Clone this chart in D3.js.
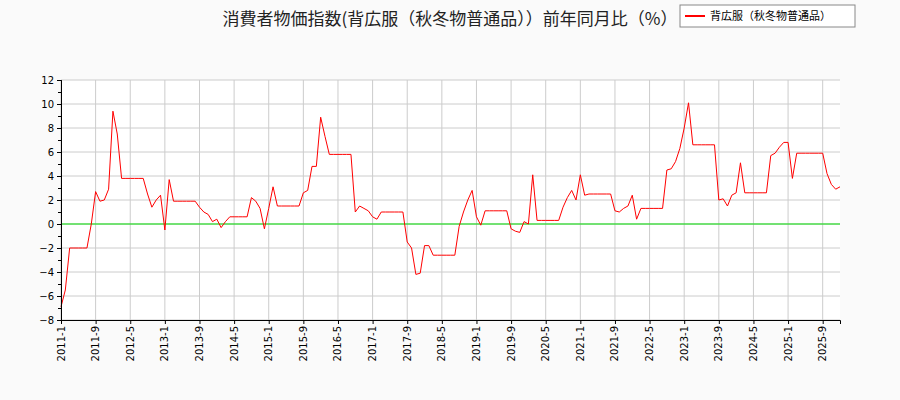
<!DOCTYPE html><html><head><meta charset="utf-8"><script src="https://cdn.jsdelivr.net/npm/d3@7"></script>
<style>body{margin:0;background:#fafafa}</style></head><body><svg id="c" width="900" height="400"></svg><script>
const startYear=2011, startMonth=1;
const values=[-6.9,-5.5,-2,-2,-2,-2,-2,0,2.7,1.9,2.0,2.9,9.4,7.5,3.8,3.8,3.8,3.8,3.8,3.8,2.5,1.4,2.0,2.4,-0.5,3.7,1.9,1.9,1.9,1.9,1.9,1.9,1.4,1.0,0.8,0.2,0.4,-0.3,0.2,0.6,0.6,0.6,0.6,0.6,2.2,1.9,1.3,-0.4,
1.3,3.1,1.5,1.5,1.5,1.5,1.5,1.5,2.6,2.8,4.8,4.8,8.9,7.3,5.8,5.8,5.8,5.8,5.8,5.8,1.0,1.5,1.3,1.1,0.6,0.4,1.0,1.0,1.0,1.0,1.0,1.0,-1.5,-2.0,-4.2,-4.1,-1.8,-1.8,-2.6,-2.6,-2.6,-2.6,-2.6,-2.6,
-0.2,1.0,2.0,2.8,0.6,-0.1,1.1,1.1,1.1,1.1,1.1,1.1,-0.4,-0.6,-0.7,0.2,0.0,4.1,0.3,0.3,0.3,0.3,0.3,0.3,1.4,2.2,2.8,2.0,4.1,2.4,2.5,2.5,2.5,2.5,2.5,2.5,1.1,1.0,1.3,1.5,2.4,0.4,1.3,1.3,1.3,1.3,1.3,1.3,
4.5,4.6,5.2,6.3,8.0,10.1,6.6,6.6,6.6,6.6,6.6,6.6,2.0,2.1,1.5,2.4,2.6,5.1,2.6,2.6,2.6,2.6,2.6,2.6,5.7,5.9,6.4,6.8,6.8,3.8,5.9,5.9,5.9,5.9,5.9,5.9,5.9,4.2,3.3,2.9,3.1];
const yTicks=[-8,-6,-4,-2,0,2,4,6,8,10,12];
const title="消費者物価指数(背広服（秋冬物普通品））前年同月比（%）";
const seriesName="背広服（秋冬物普通品）";
const svg=d3.select("#c");
const L=61,R=840,T=80,B=320;
const x=d3.scaleLinear().domain([0,values.length-1]).range([L,R]);
const y=d3.scaleLinear().domain([-8,12]).range([B,T]);
svg.append("rect").attr("x",L).attr("y",T).attr("width",R-L).attr("height",B-T).attr("fill","#fff");
const xt=d3.range(0,values.length,8);
const lab=i=>{const m=startMonth-1+i;return (startYear+Math.floor(m/12))+"-"+(m%12+1);};
svg.append("g").selectAll("line").data(xt).join("line").attr("x1",d=>x(d)).attr("x2",d=>x(d)).attr("y1",T).attr("y2",B).attr("stroke","#ccc");
svg.append("g").selectAll("line").data(yTicks).join("line").attr("x1",L).attr("x2",R).attr("y1",d=>y(d)).attr("y2",d=>y(d)).attr("stroke","#ccc");
svg.append("line").attr("x1",L).attr("x2",R).attr("y1",y(0)).attr("y2",y(0)).attr("stroke","#00dd00");
const line=d3.line().x((d,i)=>x(i)).y(d=>y(d));
svg.append("path").attr("d",line(values)).attr("fill","none").attr("stroke","red").attr("stroke-width",1);
svg.append("g").attr("transform",`translate(${L},0)`).call(d3.axisLeft(y).tickValues(yTicks).tickSize(4).tickFormat(d3.format("d")));
svg.append("g").attr("transform",`translate(${L},0)`).call(d3.axisLeft(y).tickValues(d3.range(-8,13,1)).tickSize(3).tickFormat(""));
const xa=svg.append("g").attr("transform",`translate(0,${B})`).call(d3.axisBottom(x).tickValues(xt).tickSize(4).tickFormat(lab));
xa.selectAll("text").attr("transform","rotate(-90)").attr("text-anchor","end");
svg.selectAll(".tick text").attr("font-family","DejaVu Sans").attr("font-size",10).attr("fill","#000");
svg.selectAll(".domain").attr("stroke","#000");
xa.selectAll("text").attr("x",0).attr("y",0).attr("dx","-6").attr("dy","3");
svg.append("text").attr("x",450).attr("y",25).attr("text-anchor","middle").attr("font-family","Noto Sans CJK JP").attr("font-size",17).attr("fill","#222").text(title);
const lg=svg.append("g");
lg.append("rect").attr("x",680).attr("y",5).attr("width",175).attr("height",22).attr("fill","#fff").attr("stroke","#888");
lg.append("line").attr("x1",685).attr("x2",705).attr("y1",16).attr("y2",16).attr("stroke","red").attr("stroke-width",2);
lg.append("text").attr("x",710).attr("y",20).attr("font-family","Noto Sans CJK JP").attr("font-size",11).attr("fill","#000").text(seriesName);
</script></body></html>
